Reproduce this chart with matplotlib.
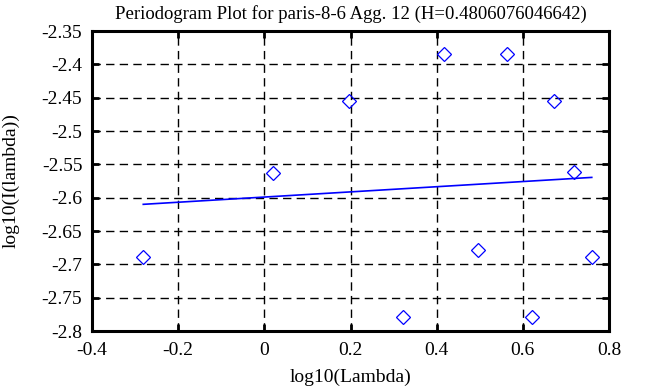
import matplotlib
matplotlib.use("Agg")
import matplotlib.pyplot as plt

# Data
log_lambda = [-0.281, 0.020, 0.196, 0.321, 0.418, 0.497, 0.564, 0.622, 0.673, 0.719, 0.760]
log_I = [-2.6895, -2.563, -2.455, -2.7795, -2.3845, -2.678, -2.3845, -2.7785, -2.4555, -2.562, -2.6895]
fit_x = [-0.281, 0.760]
fit_y = [-2.610, -2.5696]

title = "Periodogram Plot for paris-8-6 Agg. 12 (H=0.4806076046642)"
xticks = [-0.4, -0.2, 0, 0.2, 0.4, 0.6, 0.8]
xtick_labels = ["-0.4", "-0.2", "0", "0.2", "0.4", "0.6", "0.8"]
yticks = [-2.8, -2.75, -2.7, -2.65, -2.6, -2.55, -2.5, -2.45, -2.4, -2.35]
ytick_labels = ["-2.8", "-2.75", "-2.7", "-2.65", "-2.6", "-2.55", "-2.5", "-2.45", "-2.4", "-2.35"]

plt.rcParams['font.family'] = ['Liberation Serif', 'DejaVu Serif']
plt.rcParams['lines.scale_dashes'] = False

fig = plt.figure(figsize=(6.47, 3.87), dpi=100)
ax = fig.add_axes([92/647, 1 - 331/387, (609 - 92)/647, 300/387])

ax.plot(log_lambda, log_I, linestyle='none', marker='D', markersize=7.3,
        markerfacecolor='none', markeredgecolor='#0000ff', markeredgewidth=0.9, zorder=3)
ax.plot(fit_x, fit_y, color='#0000ff', linewidth=1.2, zorder=3)

ax.set_xlim(-0.4, 0.8)
ax.set_ylim(-2.8, -2.35)
ax.set_xticks(xticks)
ax.set_xticklabels(xtick_labels)
ax.set_yticks(yticks)
ax.set_yticklabels(ytick_labels)

ax.grid(True, color='black', linestyle=(0, (6, 3.8)), linewidth=1.0)
ax.set_axisbelow(True)

for s in ax.spines.values():
    s.set_linewidth(2.2)
    s.set_color('black')

ax.tick_params(direction='in', length=5, width=2, top=True, right=True,
               labelsize=14, colors='black')
ax.tick_params(axis='y', pad=7)
ax.tick_params(axis='x', pad=8)

ax.set_title(title, fontsize=13.5, pad=9)
ax.set_xlabel("log10(Lambda)", fontsize=14, labelpad=7)
ax.set_ylabel("log10(I(lambda))", fontsize=14, labelpad=16)

fig.savefig("out.png", dpi=100)
